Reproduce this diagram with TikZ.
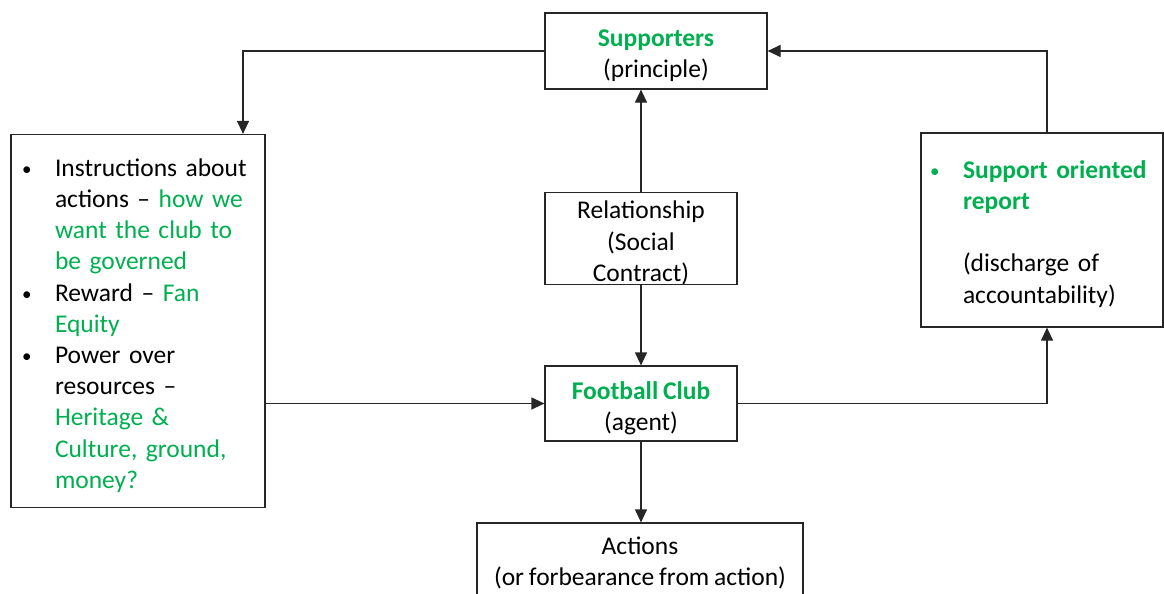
\documentclass[tikz,border=0pt]{standalone}
\usepackage{fontspec}
\setmainfont{Carlito}[WordSpace=0.85]
\usetikzlibrary{arrows.meta}
\definecolor{fangreen}{HTML}{00B050}
\definecolor{linegray}{HTML}{262626}
\newcommand{\gr}[1]{\textcolor{fangreen}{#1}}
\newcommand{\bul}{\makebox[35pt][l]{\hspace*{2pt}\raisebox{1pt}{\fontsize{19}{19}\selectfont •}}}
\newcommand{\ind}{\hspace*{35pt}}
% a little extra room above the first line lowers a text block
\newcommand{\lowerby}[1]{\rule{0pt}{\dimexpr\ht\strutbox+#1\relax}}
\begin{document}
\begin{tikzpicture}[x=1pt,y=-1pt,
  font=\fontsize{25.5}{31.2}\selectfont,
  box/.style={draw=linegray, line width=1.2pt, inner sep=0pt, align=center, fill=white},
  conn/.style={draw=linegray, line width=1.2pt, -{Triangle[length=13pt,width=12pt]}}]
\clip (0,0) rectangle (1164,594);

% principal, relationship, agent and outcome
\node[box, minimum width=222pt, minimum height=76pt] (sup) at (656,51)
  {\lowerby{5pt}\textbf{\gr{Supporters}}\\(principle)};
\node[box, minimum width=192pt, minimum height=91pt] (rel) at (641,238.5)
  {\lowerby{5pt}Relationship\\(Social\\Contract)};
\node[box, minimum width=192pt, minimum height=75pt] (fc) at (641,403.5)
  {\lowerby{5pt}\textbf{\gr{Football Club}}\\(agent)};
\node[box, minimum width=326pt, minimum height=80pt] (act) at (640,563)
  {Actions\\(or forbearance from action)};

% what the supporters give the club
\node[box, minimum width=254pt, minimum height=373pt, text width=236pt, align=left] (instr) at (138,321)
  {\lowerby{5pt}\bul Instructions about\\
   \ind actions – \gr{how we}\\
   \ind \gr{want the club to}\\
   \ind \gr{be governed}\\
   \bul Reward – \gr{Fan}\\
   \ind \gr{Equity}\\
   \bul Power over\\
   \ind resources –\\
   \ind \gr{Heritage \&}\\
   \ind \gr{Culture, ground,}\\
   \ind \gr{money?}};

% what the club gives back
\node[box, minimum width=242pt, minimum height=194pt, text width=228pt, align=left] (report) at (1042,230)
  {\lowerby{4pt}\gr{\bul}\textbf{\gr{Support oriented}}\\
   \ind\textbf{\gr{report}}\\[31pt]
   \ind(discharge of\\
   \ind accountability)};

% connectors
\draw[conn] (sup.west) -| ([xshift=105pt]instr.north);
\draw[conn] ([xshift=5pt]report.north) |- (sup.east);
\draw[conn] (rel.north) -- (rel.north |- sup.south);
\draw[conn] (rel.south) -- (rel.south |- fc.north);
\draw[conn] (instr.east |- fc.west) -- (fc.west);
\draw[conn] (fc.east) -| ([xshift=5pt]report.south);
\draw[conn] (fc.south) -- (fc.south |- act.north);
\end{tikzpicture}
\end{document}
